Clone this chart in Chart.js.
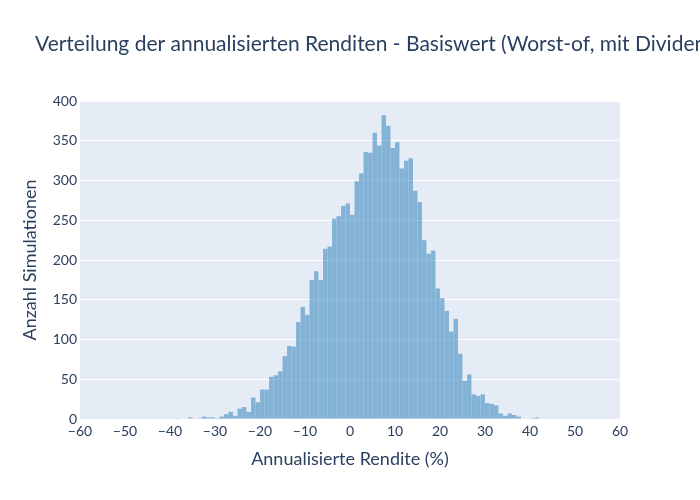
<!DOCTYPE html>
<html>
<head>
<meta charset="utf-8">
<script src="https://cdn.jsdelivr.net/npm/chart.js@4.4.1/dist/chart.umd.min.js"></script>
<style>
html,body{margin:0;padding:0;background:#fff;}
#wrap{width:700px;height:500px;position:relative;}
</style>
</head>
<body>
<div id="wrap"><canvas id="c" width="700" height="500"></canvas></div>
<script>
// Histogram bins (left edges, width 1 %) and counts
const binEdges = [-40,-39,-38,-37,-36,-35,-34,-33,-32,-31,-30,-29,-28,-27,-26,-25,-24,-23,-22,-21,
  -20,-19,-18,-17,-16,-15,-14,-13,-12,-11,-10,-9,-8,-7,-6,-5,-4,-3,-2,-1,
  0,1,2,3,4,5,6,7,8,9,10,11,12,13,14,15,16,17,18,19,
  20,21,22,23,24,25,26,27,28,29,30,31,32,33,34,35,36,37,38,39,40,41];
const counts = [0,1,0,0,2,0,1,3,2,2,1,3,6,9,4,13,15,9,27,21,
  37,37,53,55,60,79,92,91,122,141,131,175,186,175,214,217,252,255,268,271,
  257,299,309,336,335,360,344,382,369,341,348,315,325,328,287,273,225,208,212,164,
  152,136,110,126,82,48,56,31,29,31,20,19,17,7,4,7,5,3,0,0,1,2];
const binWidth = 1;
const xTicks = [-60,-50,-40,-30,-20,-10,0,10,20,30,40,50,60];
const yTicks = [0,50,100,150,200,250,300,350,400];

const titleText = 'Verteilung der annualisierten Renditen - Basiswert (Worst-of, mit Dividenden)';
const xTitle = 'Annualisierte Rendite (%)';
const yTitle = 'Anzahl Simulationen';

const FONT = 'Lato, "Open Sans", sans-serif';
const TXT = '#2a3f5f';

const points = binEdges.map((e, i) => ({x: e + binWidth / 2, y: counts[i]}));

const decor = {
  id: 'decor',
  beforeDraw(chart) {
    const {ctx, chartArea: a} = chart;
    ctx.save();
    ctx.fillStyle = '#E5ECF6';
    ctx.fillRect(a.left, a.top, a.right - a.left, a.bottom - a.top);
    ctx.restore();
  },
  afterDraw(chart) {
    const {ctx, chartArea: a} = chart;
    ctx.save();
    ctx.fillStyle = TXT;
    ctx.textBaseline = 'alphabetic';
    ctx.textAlign = 'left';
    ctx.font = '21px ' + FONT;
    ctx.fillText(titleText, 35, 51);
    ctx.textAlign = 'center';
    ctx.font = '18px ' + FONT;
    ctx.fillText(xTitle, (a.left + a.right) / 2, 465);
    ctx.translate(36, (a.top + a.bottom) / 2);
    ctx.rotate(-Math.PI / 2);
    ctx.fillText(yTitle, 0, 0);
    ctx.restore();
  }
};

new Chart(document.getElementById('c'), {
  type: 'bar',
  data: {
    datasets: [{
      data: points,
      backgroundColor: 'rgba(31,119,180,0.5)',
      borderWidth: 0,
      barPercentage: 0.97,
      categoryPercentage: 1,
      grouped: false
    }]
  },
  options: {
    responsive: false,
    animation: false,
    devicePixelRatio: 1,
    layout: {padding: {left: 0, right: 80, top: 101, bottom: 0}},
    plugins: {legend: {display: false}, tooltip: {enabled: false}, title: {display: false}},
    scales: {
      x: {
        type: 'linear',
        min: -60, max: 60,
        offset: false,
        grid: {display: false, drawTicks: false},
        border: {display: false},
        afterBuildTicks(s) { s.ticks = xTicks.map(v => ({value: v})); },
        afterFit(s) { s.height = 81; },
        ticks: {
          padding: 4,
          color: TXT,
          font: {family: FONT, size: 14},
          maxRotation: 0,
          autoSkip: false,
          callback: v => String(v).replace('-', '\u2212')
        }
      },
      y: {
        min: 0, max: 400,
        grid: {color: '#ffffff', lineWidth: 1, drawTicks: false},
        border: {display: false},
        afterBuildTicks(s) { s.ticks = yTicks.map(v => ({value: v})); },
        afterFit(s) { s.width = 80; },
        ticks: {
          padding: 3,
          color: TXT,
          font: {family: FONT, size: 14}
        }
      }
    }
  },
  plugins: [decor]
});
</script>
</body>
</html>
